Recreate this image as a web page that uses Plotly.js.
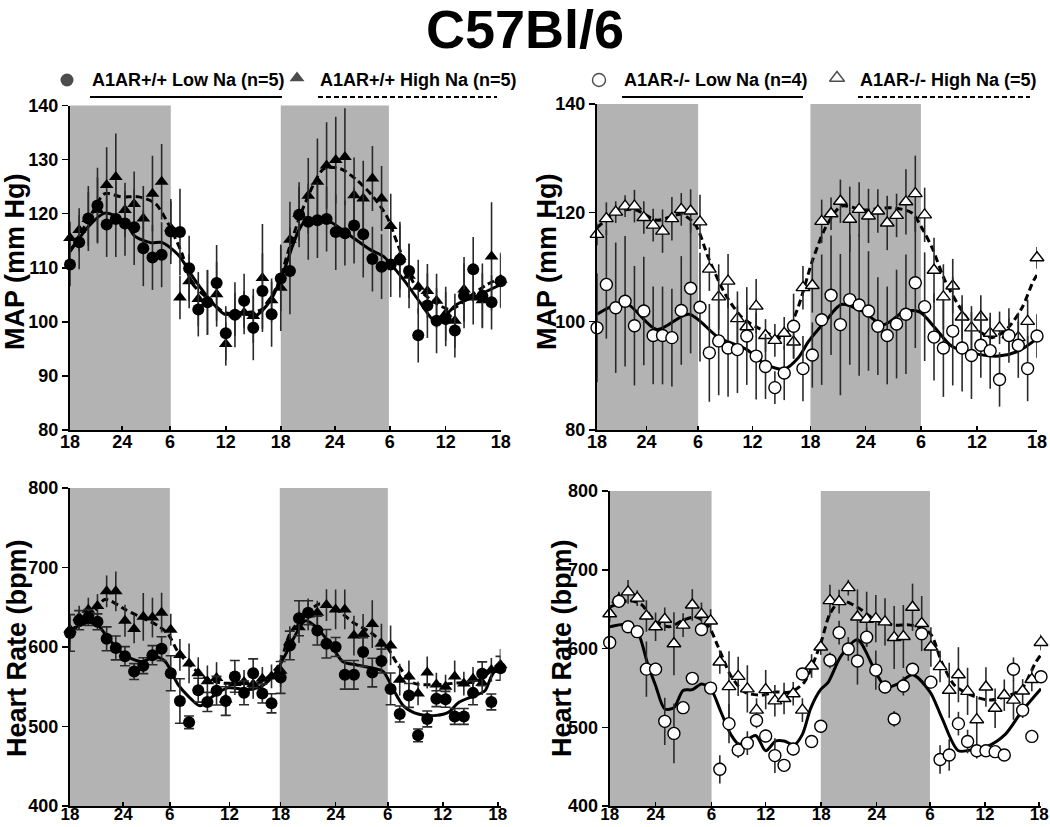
<!DOCTYPE html>
<html><head><meta charset="utf-8">
<script src="https://cdn.plot.ly/plotly-3.0.1.min.js"></script>
<style>body{margin:0;background:#fff}#chart{width:1050px;height:827px}</style>
</head><body><div id="chart"></div>
<script>
// ---------- data (hour index 0..47 from 18:00) ----------
const hourIndex = [0,1,2,3,4,5,6,7,8,9,10,11,12,13,14,15,16,17,18,19,20,21,22,23,24,25,26,27,28,29,30,31,32,33,34,35,36,37,38,39,40,41,42,43,44,45,46,47];
const tickLabels = ["18","24","6","12","18","24","6","12","18"];
const seriesNames = ["A1AR+/+ Low Na (n=5)","A1AR+/+ High Na (n=5)","A1AR-/- Low Na (n=4)","A1AR-/- High Na (=5)"];

// MAP, A1AR+/+
const wtLowMap = [110.6,114.7,119.1,121.5,118.0,119.0,118.2,117.5,113.6,111.9,112.4,116.7,116.6,109.9,102.3,103.6,107.2,97.9,101.3,103.9,98.9,105.7,101.4,108.0,109.4,119.8,118.5,118.8,119.0,116.6,116.4,117.8,116.2,111.6,110.2,110.6,111.5,109.4,97.5,103.0,100.2,100.5,98.4,104.8,109.7,104.8,103.6,107.5];
const wtLowMapErr = [4,5,6,7,6,7,6,7,7,6,6,6,8,6,5,6,7,5,6,5,6,7,6,6,8,6,7,7,6,7,6,7,8,6,6,6,7,5,5,6,6,5,5,6,6,6,5,5];
const wtHighMap = [115.5,117.0,119.0,120.7,125.3,126.8,120.7,121.8,119.1,123.7,125.9,117.3,104.5,107.5,104.2,103.6,105.1,95.9,101.4,101.7,101.1,108.1,104.0,106.3,115.2,120.0,123.3,125.9,128.9,129.9,130.5,123.4,122.8,126.5,122.8,117.7,112.0,108.5,106.5,105.7,103.9,101.5,100.2,106.0,104.5,104.0,112.1,107.8];
const wtHighMapErr = [3,4,5,6,7,8,5,6,6,7,7,5,4,5,5,6,6,4,4,4,5,10,4,8,7,5,7,8,8,8,9,7,7,6,6,6,6,6,5,5,5,5,5,6,5,5,10,5];
const wtLowMapFitX = [0,2,3.8,6,7.1,8.9,10,11.8,13.6,15.5,16.9,18.7,20.2,21.9,23.3,25.6,28,30.2,32.8,34.2,36.4,38.2,40,42.2,44.4,47];
const wtLowMapFitY = [113.0,117.6,120.1,118.5,115.8,114.6,114.7,112.4,107.8,103.6,101.4,101.7,101.1,104.0,109.3,118.5,118.8,116.4,113.3,112.1,107.8,103.6,99.9,103.2,104.8,106.9];
const wtHighMapFitX = [0,2,3.8,5.6,7.5,9.3,10.7,12.2,13.3,15.1,16.9,19,20.9,22.6,24,25.5,27.7,29.5,31.3,33.1,34.6,35.7,37.5,39.3,41.5,43.7,45.5,47];
const wtHighMapFitY = [113.0,118.8,123.7,123.1,123.1,121.9,118.2,112.7,107.2,104.2,101.7,101.7,102.3,106.6,114.0,121.3,128.3,128.3,126.2,123.1,119.4,114.6,107.2,104.2,102.3,104.8,106.9,108.1];

// MAP, A1AR-/-
const koLowMap = [98.8,106.8,102.5,103.7,99.2,101.9,97.4,97.4,97.0,102.0,106.1,102.6,94.2,96.4,95.1,94.8,97.3,93.6,91.7,87.8,90.5,99.1,91.3,93.8,100.3,104.8,99.4,104.0,103.0,101.9,99.1,97.4,99.5,101.3,107.1,102.7,97.1,95.1,98.2,95.1,93.7,95.6,94.6,89.3,97.4,95.6,91.3,97.3];
const koLowMapErr = [10,10,12,12,11,10,9,9,9,10,12,10,9,10,9,8,9,8,6,3,5,6,6,6,12,11,13,12,13,11,9,9,10,11,12,10,8,9,10,8,8,6,7,5,5,6,6,4];
const koHighMap = [116.0,118.9,120.1,121.2,121.2,119.1,117.7,116.6,118.9,120.6,120.3,118.3,109.6,104.5,107.4,100.5,99.0,102.8,97.4,96.5,97.8,96.2,106.2,106.6,118.4,119.8,122.1,118.8,120.6,119.4,120.3,118.1,119.5,122.0,123.5,119.6,109.4,104.5,106.5,100.8,98.8,100.8,97.8,98.8,97.5,97.0,100.0,111.7];
const koHighMapErr = [2,3,2,2,3,3,3,4,4,3,4,5,4,6,5,5,4,5,3,3,3,3,4,5,4,3,4,6,5,5,4,5,4,6,7,5,6,6,5,4,4,4,3,3,3,3,4,2];
const koLowMapFitX = [0,3,6.4,9.8,13,16,18,20,21.5,22.6,24.4,26.1,28.3,30.6,32.9,34.5,36.1,37.9,40,42.9,45,47];
const koLowMapFitY = [101.3,103.4,98.5,101.3,97.0,94.8,92.1,91.2,93.3,96.3,100.0,103.1,101.9,99.4,101.9,101.7,98.8,95.4,94.2,93.6,94.5,96.8];
const koHighMapFitX = [0,2,4,6.4,9,10.5,11.9,13.7,15.5,17.2,19.7,21.2,23,24.4,26.1,28.5,31.5,33.6,34.7,35.8,37.2,39,40.4,42.2,43.9,45.4,46.6,47];
const koHighMapFitY = [117.2,120.0,120.6,118.6,119.7,117.8,111.7,105.0,100.7,98.8,97.0,101.3,111.1,117.2,121.2,120.5,120.9,120.0,117.2,113.5,107.4,101.9,98.8,97.0,98.8,102.5,107.4,108.5];

// Heart rate, A1AR+/+
const wtLowHr = [617.7,633.7,637.0,631.7,610.3,598.8,588.5,569.1,576.5,589.7,597.9,567.0,532.1,505.3,545.7,530.9,545,532.0,563.0,542.3,567.0,541.6,529.2,561.7,602.0,636.2,643.2,620.6,604.1,600.0,565.0,565.0,593.8,567.9,582.3,547.3,515.7,539.0,488.9,509.5,535.0,534.2,512.7,512.7,542.3,566.3,530.9,573.2];
const wtLowHrErr = [23,12,10,10,15,15,12,10,10,12,15,22,28,8,15,12,18,18,20,15,18,12,12,20,18,22,15,18,18,12,18,18,18,18,15,20,10,15,8,10,10,10,10,10,15,15,10,15];
const wtHighHr = [622,637,647,651.5,670,670,633,622.6,637.9,637,643.2,621.8,590,579.4,567,556.8,560.9,534,554.7,556,553,560,563,570,606,625,641,643.2,652.7,647.3,647.3,614.4,616.5,628.8,604.1,602,558.9,563,541.6,567.9,552.7,550,563,554,560,554.7,571.2,577.4];
const wtHighHrErr = [15,15,15,15,20,25,20,18,30,25,25,20,20,25,20,20,20,20,15,15,18,15,15,20,20,20,20,15,20,25,25,25,25,30,25,25,20,20,15,20,15,15,20,15,15,15,15,20];
const wtLowHrFitX = [0,2,3.1,4.2,6,7.8,9.3,10.4,11.8,12.9,14.2,15.6,17.2,19.5,20.9,22.4,23.5,25.7,26.9,28.4,29.8,31.3,33.1,34.2,35.3,36.4,38,40,41.3,42.4,44,45.3,46,47];
const wtLowHrFitY = [620.6,630.9,626.8,610.3,589.7,581.5,587.7,581.5,552.7,538.3,526,538,548.6,546.5,550.6,567,590,632.9,624.7,604.1,581.5,577.4,573.3,569.1,546.5,526,515.7,514,517.7,530,538,545,563,580];
const wtHighHrFitX = [0,2,3.8,6,7.8,9.6,10.7,11.8,13.3,14.7,16.6,18.7,20.2,21.7,22.9,24,25.5,27.3,29.1,30.9,32.8,34.6,35.7,37.5,40,42.2,44.4,47];
const wtHighHrFitY = [622,632.9,659.7,647.3,637,626.8,616.5,593.8,575.3,561.3,554.7,554.7,552.7,563,579.4,616.5,639.1,654.3,647.3,630.9,618.5,600,579.4,554.7,552.7,554.7,556.8,581.5];

// Heart rate, A1AR-/-
const koLowHr = [607.7,659.9,627.6,621.4,573.8,573.8,507.5,492.2,524.9,562.1,624.2,549.7,446.6,504.6,471,479.8,508.7,488.8,464,451.6,472.3,567.6,481.9,501.2,585,620.1,599.4,584.1,614.4,572.6,551.1,510.5,552.3,573.6,618.8,557.3,459,464.8,504.6,481.9,470.2,470.2,469,464.8,573.6,521.7,488.4,564.2];
const koLowHrErr = [5,8,6,5,35,8,30,38,5,5,8,5,18,25,10,15,10,8,22,8,8,8,8,8,10,15,15,30,12,25,8,10,12,8,8,8,18,20,15,15,10,8,5,5,15,10,5,8];
const koHighHr = [644.1,662,671.9,664,641.2,627.6,637.1,606.1,629.7,655.3,643.4,635,582.9,551.6,564.6,548.7,521.7,547.8,533.5,536.5,542.6,521.7,577.8,601.9,660.8,659.5,677.3,640,637.1,637.9,633.8,613.9,615.2,652.4,631.7,601.9,577,546.9,566.7,545.6,509.6,551.1,524.1,540.7,534.5,546.1,560.6,607.7];
const koHighHrErr = [10,10,15,10,20,18,15,40,15,20,15,15,15,45,25,30,15,25,20,20,15,15,15,10,20,15,10,35,35,30,30,40,40,30,35,25,20,35,35,30,30,25,25,20,25,15,15,10];
const koLowHrFitX = [0,2,3.1,4.1,5,6,7,8,9,10,11,12.1,13.2,14.1,15.9,17,18.1,19,20.1,21,21.9,23,23.8,25.2,27,29,30.1,31.4,33,34.9,36.2,38,39.8,41.3,43.1,44.9,47];
const koLowHrFitY = [627.6,630.4,619.3,582,553,523.2,524.9,546.8,547.7,555,548.9,520,490.9,478.4,489.6,470.2,482.6,482.6,477.6,490.9,524,548,557,590.2,611,569.5,550.9,555.1,566.7,545,511.9,470.2,472.3,476.5,490.9,520,548.9];
const koHighHrFitX = [0,2,3.4,5,6.5,8,9.4,10.7,11.8,13.2,14.7,16.5,18,19.7,21.2,23,24,25.2,27,29,31,32.8,34.9,36.2,37.6,39.4,41.3,43.1,44.9,46.4,47];
const koHighHrFitY = [652.4,660.8,656.5,633.8,627.6,635.9,640,629.7,602.7,565.5,544.8,540.7,544.8,544.8,557.2,607,644.1,660.8,652.4,635.9,629.7,629.7,619.3,582,553,540.7,534.5,538.6,549,582,592.3];

// ---------- build ----------
const FONT = "Liberation Sans, Arial, sans-serif";
const BAR = "#2a2a2a";
const traces = [];

function fit(ax, xs, ys, dashed) {
  traces.push({type:"scatter", mode:"lines", x:xs, y:ys, xaxis:"x"+ax, yaxis:"y"+ax,
    line:{color:"#000", width:3, shape:"spline", smoothing:0.8, dash: dashed ? "7px,4px" : "solid"},
    hoverinfo:"skip", showlegend:false, cliponaxis:false});
}
function pts(ax, ys, errs, symbol, filled, capW, name) {
  traces.push({type:"scatter", mode:"markers", x:hourIndex, y:ys, xaxis:"x"+ax, yaxis:"y"+ax, name:name,
    error_y:{type:"data", array:errs, visible:true, color:BAR, thickness:1.6, width:capW},
    marker:{symbol:symbol, size:12,
      color: filled ? "#000" : "#fff", line:{color:"#000", width: filled ? 0 : 1.4}},
    showlegend:false, cliponaxis:false});
}

// Panel 1: MAP WT
fit("", wtLowMapFitX, wtLowMapFitY, false);
fit("", wtHighMapFitX, wtHighMapFitY, true);
pts("", wtHighMap, wtHighMapErr, "triangle-up", true, 0, seriesNames[1]);
pts("", wtLowMap, wtLowMapErr, "circle", true, 0, seriesNames[0]);
// Panel 2: MAP KO
fit("2", koLowMapFitX, koLowMapFitY, false);
fit("2", koHighMapFitX, koHighMapFitY, true);
pts("2", koHighMap, koHighMapErr, "triangle-up", false, 0, seriesNames[3]);
pts("2", koLowMap, koLowMapErr, "circle", false, 0, seriesNames[2]);
// Panel 3: HR WT
fit("3", wtLowHrFitX, wtLowHrFitY, false);
fit("3", wtHighHrFitX, wtHighHrFitY, true);
pts("3", wtHighHr, wtHighHrErr, "triangle-up", true, 0, seriesNames[1]);
pts("3", wtLowHr, wtLowHrErr, "circle", true, 5, seriesNames[0]);
// Panel 4: HR KO
fit("4", koLowHrFitX, koLowHrFitY, false);
fit("4", koHighHrFitX, koHighHrFitY, true);
pts("4", koHighHr, koHighHrErr, "triangle-up", false, 0, seriesNames[3]);
pts("4", koLowHr, koLowHrErr, "circle", false, 0, seriesNames[2]);

// legend markers on an overlay axis in pixel units
traces.push({type:"scatter", mode:"markers", xaxis:"x5", yaxis:"y5",
  x:[67,297,599,837], y:[80,78,80,78],
  marker:{symbol:["circle","triangle-up","circle","triangle-up"], size:[13,13,13,13],
    color:["#000","#000","#fff","#fff"], line:{color:"#000", width:[0,0,1.4,1.4]}},
  showlegend:false, hoverinfo:"skip", cliponaxis:false});

function xax(domain, tv, anchor, fs, standoff) {
  return {domain:domain, range:[0,47], anchor:anchor, tickmode:"array", tickvals:tv, ticktext:tickLabels,
    ticks:"inside", ticklen:4, tickwidth:1.5, tickcolor:"#000", ticklabelstandoff:standoff,
    showline:true, linecolor:"#000", linewidth:2, showgrid:false, zeroline:false,
    tickfont:{family:FONT, size:fs, color:"#000", weight:"bold"}, fixedrange:true};
}
function yax(domain, range, dtick, anchor) {
  return {domain:domain, range:range, dtick:dtick, tick0:range[0], anchor:anchor,
    ticks:"outside", ticklen:6, tickwidth:1.5, tickcolor:"#000",
    showline:true, linecolor:"#000", linewidth:2, showgrid:false, zeroline:false,
    tickfont:{family:FONT, size:18, color:"#000", weight:"bold"}, fixedrange:true};
}

const dTL = {x:[70/1050, 500.7/1050], y:[1-430/827, 1-105.5/827]};
const dTR = {x:[597/1050, 1037/1050], y:[1-430/827, 1-104/827]};
const dBL = {x:[70/1050, 500.5/1050], y:[1-806/827, 1-488/827]};
const dBR = {x:[609.7/1050, 1041/1050], y:[1-806/827, 1-491/827]};

const shade = (xr, x0, x1) => ({type:"rect", xref:xr, yref:xr.replace("x","y")+" domain", x0:x0, x1:x1, y0:0, y1:1,
  fillcolor:"#b3b3b3", line:{width:0}, layer:"below"});
const pline = (x0, x1, dashed) => ({type:"line", xref:"paper", yref:"paper",
  x0:x0/1050, x1:x1/1050, y0:1-97/827, y1:1-97/827, line:{color:"#000", width:2, dash: dashed ? "5px,3px" : "solid"}});

const ann = (text, px, py, size, opts) => Object.assign({text:text, xref:"paper", yref:"paper",
  x:px/1050, y:1-py/827, xanchor:"center", yanchor:"middle", showarrow:false,
  font:{family:FONT, size:size, color:"#000", weight:"bold"}}, opts||{});

const layout = {
  width:1050, height:827, margin:{l:0,r:0,t:0,b:0}, paper_bgcolor:"#fff", plot_bgcolor:"rgba(0,0,0,0)",
  showlegend:false,
  xaxis: xax(dTL.x, [0,5.7,10.9,17.0,23.0,28.9,34.9,41.0,47], "y", 18, -6),
  yaxis: yax(dTL.y, [80,140], 10, "x"),
  xaxis2: xax(dTR.x, [0,5.3,10.8,16.6,22.8,28.7,34.6,40.6,47], "y2", 18, -6),
  yaxis2: yax(dTR.y, [80,140], 20, "x2"),
  xaxis3: xax(dBL.x, [0,5.8,10.9,17.4,23.0,29.0,34.7,40.7,46.7], "y3", 17, -8),
  yaxis3: yax(dBL.y, [400,800], 100, "x3"),
  xaxis4: xax(dBR.x, [0,5.0,11.1,17.0,23.05,29.1,34.9,40.9,46.8], "y4", 17, -8),
  yaxis4: yax(dBR.y, [400,800], 100, "x4"),
  xaxis5: {domain:[0,1], range:[0,1050], visible:false, fixedrange:true, anchor:"y5"},
  yaxis5: {domain:[0,1], range:[827,0], visible:false, fixedrange:true, anchor:"x5"},
  shapes: [
    shade("x",0,11.0), shade("x",23.0,34.8),
    shade("x2",0,10.8), shade("x2",22.8,34.6),
    shade("x3",0,10.9), shade("x3",22.9,34.7),
    shade("x4",0,11.1), shade("x4",23.0,34.9),
    pline(90,282,false), pline(318,497,true), pline(622,803,false), pline(858,1030,true)
  ],
  annotations: [
    ann("C57Bl/6", 525, 29, 54),
    ann(seriesNames[0], 90, 80, 18, {xanchor:"left"}),
    ann(seriesNames[1], 318, 80, 18, {xanchor:"left"}),
    ann(seriesNames[2], 622, 80, 18, {xanchor:"left"}),
    ann(seriesNames[3], 858, 80, 18, {xanchor:"left"}),
    ann("MAP (mm Hg)", 15, 262, 27, {textangle:-90}),
    ann("MAP (mm Hg)", 547, 262, 27, {textangle:-90}),
    ann("Heart Rate (bpm)", 17, 648, 27, {textangle:-90}),
    ann("Heart Rate (bpm)", 562, 648, 27, {textangle:-90})
  ]
};

Plotly.newPlot("chart", traces, layout, {staticPlot:true, displayModeBar:false});
</script>
</body></html>
